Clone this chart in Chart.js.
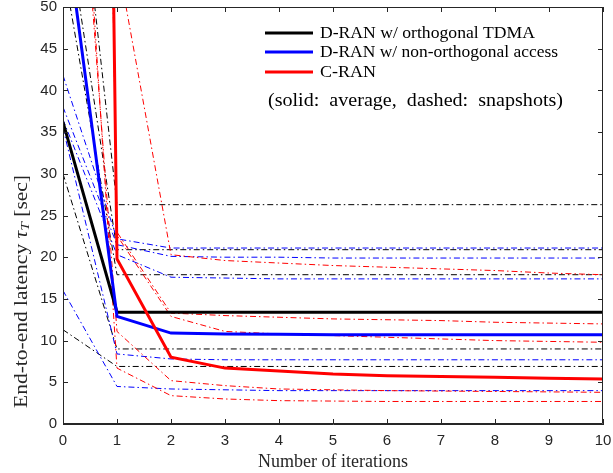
<!DOCTYPE html>
<html>
<head>
<meta charset="utf-8">
<script src="https://cdn.jsdelivr.net/npm/chart.js@4/dist/chart.umd.min.js"></script>
<style>
  html, body { margin: 0; padding: 0; background: #fff; }
</style>
</head>
<body>
<canvas id="chart" width="613" height="473"></canvas>
<script>
const iterations = [0, 1, 2, 3, 4, 5, 6, 7, 8, 9, 10];
const yTicks = [0, 5, 10, 15, 20, 25, 30, 35, 40, 45, 50];

// averages (solid)
const tdmaAvg = [36.2, 13.4, 13.4, 13.4, 13.4, 13.4, 13.4, 13.4, 13.4, 13.4, 13.4];
const noaAvg = [62, 12.9, 10.9, 10.8, 10.75, 10.7, 10.7, 10.7, 10.7, 10.7, 10.7];
const cranAvg = [520, 19.8, 8.0, 6.7, 6.35, 6.0, 5.8, 5.7, 5.6, 5.5, 5.4];

// snapshots (dash-dot)
const tdmaSnap1 = [84, 26.3, 26.3, 26.3, 26.3, 26.3, 26.3, 26.3, 26.3, 26.3, 26.3];
const tdmaSnap2 = [63, 20.9, 20.9, 20.9, 20.9, 20.9, 20.9, 20.9, 20.9, 20.9, 20.9];
const tdmaSnap3 = [55, 17.9, 17.9, 17.9, 17.9, 17.9, 17.9, 17.9, 17.9, 17.9, 17.9];
const tdmaSnap4 = [30, 9.0, 9.0, 9.0, 9.0, 9.0, 9.0, 9.0, 9.0, 9.0, 9.0];
const tdmaSnap5 = [11.3, 6.9, 6.9, 6.9, 6.9, 6.9, 6.9, 6.9, 6.9, 6.9, 6.9];

const noaSnap1 = [41.8, 22.2, 21.1, 21.1, 21.1, 21.1, 21.1, 21.1, 21.1, 21.1, 21.1];
const noaSnap2 = [38, 21.5, 20.1, 20.0, 20.0, 19.9, 19.9, 19.9, 19.9, 19.9, 19.9];
const noaSnap3 = [36.5, 20.3, 17.6, 17.5, 17.4, 17.4, 17.4, 17.4, 17.4, 17.4, 17.4];
const noaSnap4 = [35.5, 8.4, 7.8, 7.7, 7.7, 7.7, 7.7, 7.7, 7.7, 7.7, 7.7];
const noaSnap5 = [16, 4.5, 4.2, 4.1, 4.0, 4.0, 4.0, 4.0, 4.0, 4.0, 4.0];

const cranSnap1 = [500, 56, 20.3, 19.6, 19.3, 19.0, 18.8, 18.6, 18.4, 18.1, 17.9];
const cranSnap2 = [400, 23.0, 13.3, 13.0, 12.8, 12.6, 12.5, 12.4, 12.2, 12.1, 12.0];
const cranSnap3 = [420, 22.6, 12.9, 11.1, 10.8, 10.6, 10.4, 10.2, 10.0, 9.9, 9.8];
const cranSnap4 = [97, 11.1, 5.2, 4.6, 4.2, 4.1, 4.0, 3.95, 3.9, 3.85, 3.8];
const cranSnap5 = [107, 6.7, 3.4, 3.0, 2.8, 2.75, 2.7, 2.7, 2.7, 2.7, 2.7];

const legendLabels = ['D-RAN w/ orthogonal TDMA', 'D-RAN w/ non-orthogonal access', 'C-RAN'];
const legendNote = '(solid:  average,  dashed:  snapshots)';

const BLACK = '#000000';
const BLUE = '#0000ff';
const RED = '#ff0000';
const AXIS = '#262626';
const SERIF = '"Liberation Serif", "DejaVu Serif", serif';
const SANS = '"Liberation Sans", Arial, sans-serif';

const toPoints = (arr) => arr.map((v, i) => ({ x: iterations[i], y: v }));

const solid = (data, color) => ({
  data: toPoints(data),
  borderColor: color,
  borderWidth: 3,
  pointRadius: 0,
  fill: false,
  tension: 0,
});

const dashed = (data, color) => ({
  data: toPoints(data),
  borderColor: color,
  borderWidth: 1,
  borderDash: [6, 3, 1.5, 3],
  pointRadius: 0,
  fill: false,
  tension: 0,
});

// first dataset is painted on top
const datasets = [
  solid(cranAvg, RED),
  solid(noaAvg, BLUE),
  solid(tdmaAvg, BLACK),
  dashed(cranSnap1, RED),
  dashed(cranSnap2, RED),
  dashed(cranSnap3, RED),
  dashed(cranSnap4, RED),
  dashed(cranSnap5, RED),
  dashed(noaSnap1, BLUE),
  dashed(noaSnap2, BLUE),
  dashed(noaSnap3, BLUE),
  dashed(noaSnap4, BLUE),
  dashed(noaSnap5, BLUE),
  dashed(tdmaSnap1, BLACK),
  dashed(tdmaSnap2, BLACK),
  dashed(tdmaSnap3, BLACK),
  dashed(tdmaSnap4, BLACK),
  dashed(tdmaSnap5, BLACK),
];

// draw text stretched to a given width (the original uses a wide TeX font)
function fitText(ctx, text, x, y, width) {
  const w = ctx.measureText(text).width;
  ctx.save();
  ctx.translate(x, y);
  ctx.scale(width / w, 1);
  ctx.fillText(text, 0, 0);
  ctx.restore();
}

const boxPlugin = {
  id: 'boxPlugin',
  afterDraw(chart) {
    const { ctx, chartArea: a, scales } = chart;
    ctx.save();

    // box and inward ticks
    ctx.strokeStyle = AXIS;
    ctx.lineWidth = 1;
    ctx.beginPath();
    ctx.rect(a.left + 0.5, a.top + 0.5, a.right - a.left - 1, a.bottom - a.top - 1);
    iterations.forEach((v) => {
      const px = Math.round(scales.x.getPixelForValue(v)) + 0.5;
      ctx.moveTo(px, a.bottom); ctx.lineTo(px, a.bottom - 5);
      ctx.moveTo(px, a.top); ctx.lineTo(px, a.top + 5);
    });
    yTicks.forEach((v) => {
      const py = Math.round(scales.y.getPixelForValue(v)) + 0.5;
      ctx.moveTo(a.left, py); ctx.lineTo(a.left + 5, py);
      ctx.moveTo(a.right, py); ctx.lineTo(a.right - 5, py);
    });
    ctx.stroke();

    // legend
    const colors = [BLACK, BLUE, RED];
    const rows = [33, 52, 72];
    const widths = [215, 238, 56];
    ctx.font = '17px ' + SERIF;
    ctx.textBaseline = 'middle';
    ctx.textAlign = 'left';
    legendLabels.forEach((label, i) => {
      ctx.strokeStyle = colors[i];
      ctx.lineWidth = 3;
      ctx.beginPath();
      ctx.moveTo(265, rows[i]);
      ctx.lineTo(313, rows[i]);
      ctx.stroke();
      ctx.fillStyle = '#000';
      fitText(ctx, label, 320, rows[i] + 1, widths[i]);
    });
    ctx.font = '18px ' + SERIF;
    fitText(ctx, legendNote, 268, 101, 295);

    // y axis title with italic tau and subscript T
    const parts = [
      { t: 'End-to-end latency ', f: '18px ' + SERIF, dy: 0 },
      { t: 'τ', f: 'italic 18px ' + SERIF, dy: 0 },
      { t: 'T', f: 'italic 13px ' + SERIF, dy: 4 },
      { t: ' [sec]', f: '18px ' + SERIF, dy: 0 },
    ];
    let total = 0;
    parts.forEach((p) => { ctx.font = p.f; p.w = ctx.measureText(p.t).width; total += p.w; });
    const titleLen = 233;
    ctx.translate(22, 408);
    ctx.rotate(-Math.PI / 2);
    ctx.scale(titleLen / total, 1);
    ctx.fillStyle = AXIS;
    let x = 0;
    parts.forEach((p) => {
      ctx.font = p.f;
      ctx.fillText(p.t, x, p.dy);
      x += p.w;
    });
    ctx.restore();
  },
};

new Chart(document.getElementById('chart'), {
  type: 'line',
  data: { datasets },
  options: {
    responsive: false,
    animation: false,
    devicePixelRatio: 1,
    layout: { padding: { left: 0, right: 10, top: 7, bottom: 0 } },
    plugins: {
      legend: { display: false },
      tooltip: { enabled: false },
    },
    scales: {
      x: {
        type: 'linear',
        min: 0,
        max: 10,
        afterFit: (s) => { s.height = 49; s.paddingLeft = 0; s.paddingRight = 0; },
        afterBuildTicks: (s) => { s.ticks = iterations.map((v) => ({ value: v })); },
        ticks: { color: AXIS, font: { family: SANS, size: 15 }, padding: 8, maxRotation: 0 },
        grid: { drawOnChartArea: false, drawTicks: false },
        border: { color: AXIS },
        title: {
          display: true,
          text: 'Number of iterations',
          color: AXIS,
          font: { family: SERIF, size: 18 },
          padding: { top: 0, bottom: 0 },
        },
      },
      y: {
        min: 0,
        max: 50,
        afterFit: (s) => { s.width = 63; s.paddingTop = 0; s.paddingBottom = 0; },
        afterBuildTicks: (s) => { s.ticks = yTicks.map((v) => ({ value: v })); },
        ticks: { color: AXIS, font: { family: SANS, size: 15 }, padding: 6 },
        grid: { drawOnChartArea: false, drawTicks: false },
        border: { color: AXIS },
      },
    },
  },
  plugins: [boxPlugin],
});
</script>
</body>
</html>
